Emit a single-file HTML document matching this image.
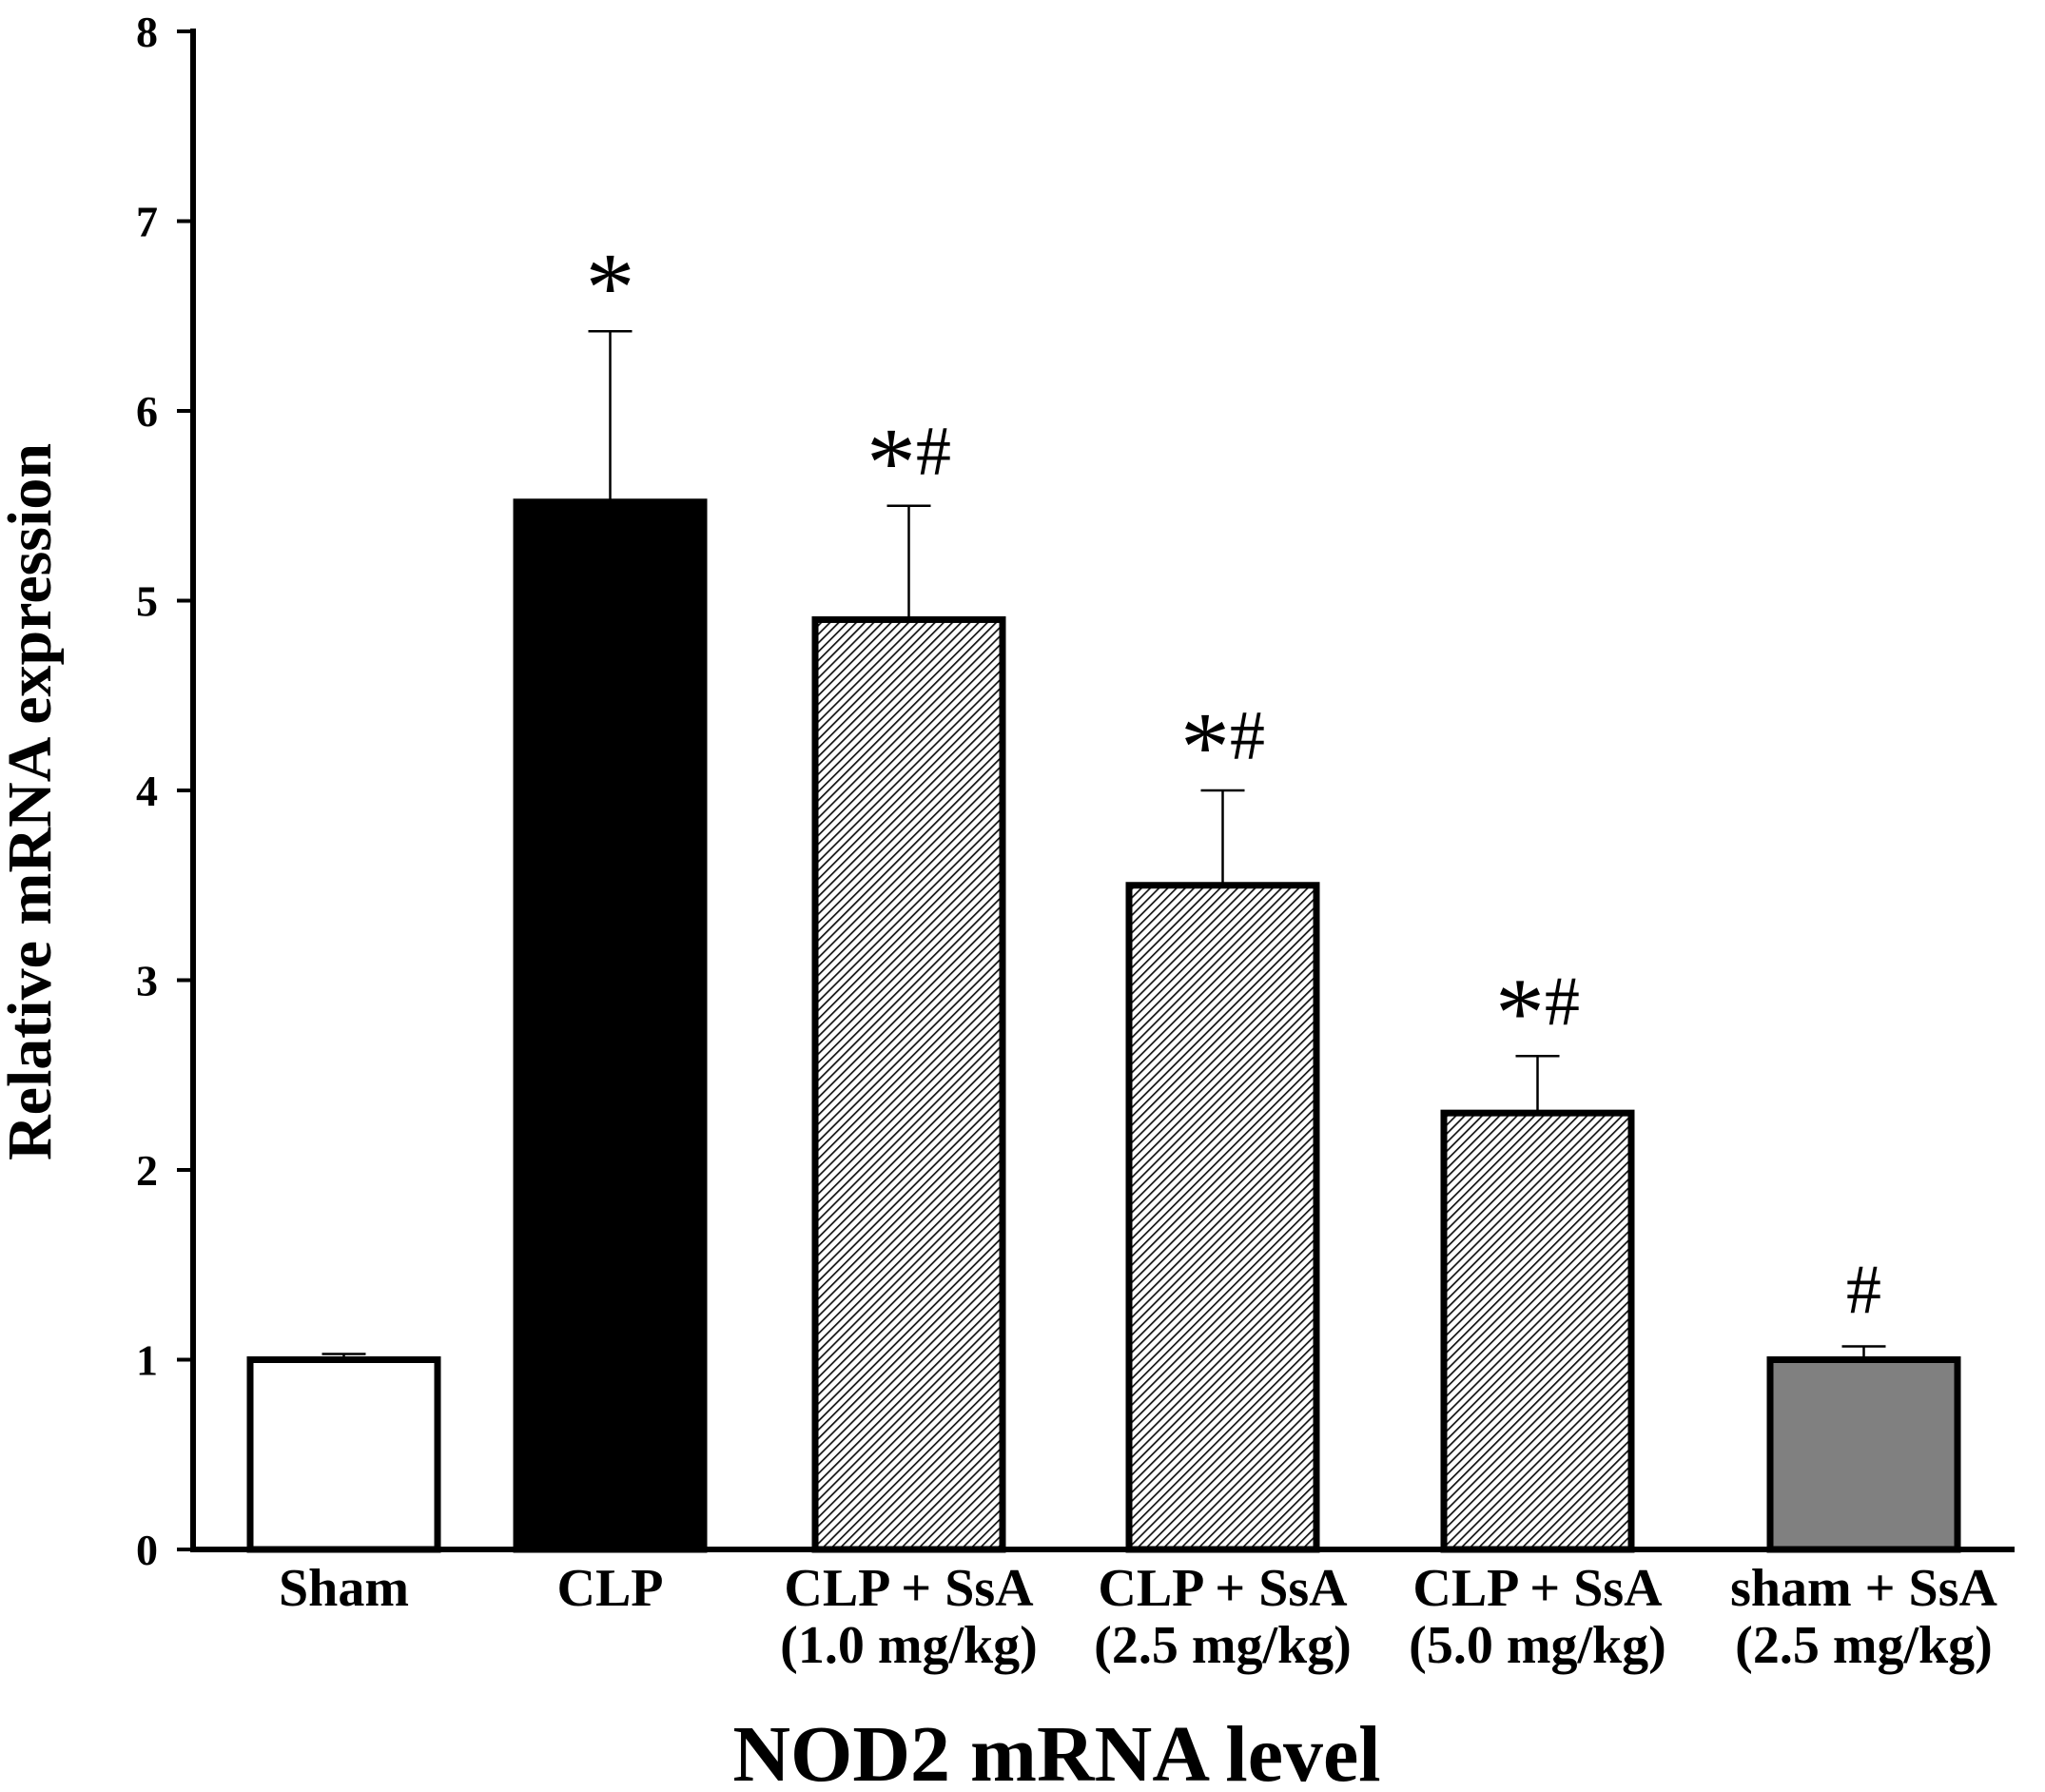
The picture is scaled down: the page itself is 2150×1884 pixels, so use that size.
<!DOCTYPE html>
<html><head><meta charset="utf-8"><style>
body{margin:0;background:#fff}
svg{display:block;font-family:"Liberation Serif",serif;font-weight:bold}
</style></head><body>
<svg id="c" width="2150" height="1884" viewBox="0 0 2150 1884">
<defs>
<pattern id="hatch" patternUnits="userSpaceOnUse" width="6.5" height="6.5" patternTransform="rotate(45)">
<rect width="6.5" height="6.5" fill="#fff"/>
<line x1="0" y1="0" x2="0" y2="6.5" stroke="#111" stroke-width="3.4"/>
</pattern>
</defs>
<g id="bars"></g>
<g id="axes"></g>
<text x="38" y="843" font-size="66" text-anchor="middle" transform="rotate(-90 38 843)" dominant-baseline="middle">Relative mRNA expression</text>
<text x="1111" y="1872" font-size="84" text-anchor="middle">NOD2 mRNA level</text>
</svg>
<script>
const categories1=["Sham","CLP","CLP + SsA","CLP + SsA","CLP + SsA","sham + SsA"];
const categories2=["","","(1.0 mg/kg)","(2.5 mg/kg)","(5.0 mg/kg)","(2.5 mg/kg)"];
const values=[1.0,5.52,4.9,3.5,2.3,1.0];
const errors=[0.03,0.9,0.6,0.5,0.3,0.07];
const marks=["","*","*#","*#","*#","#"];
const fills=["#fff","#000","url(#hatch)","url(#hatch)","url(#hatch)","#808080"];
const yTicks=[0,1,2,3,4,5,6,7,8];
const barLeft=[263,543,857,1187,1518,1861];
const barW=197;
const NS="http://www.w3.org/2000/svg";
const y=v=>1629-v*199.5;
function mk(t,a,p){const e=document.createElementNS(NS,t);for(const k in a)e.setAttribute(k,a[k]);p.appendChild(e);return e;}
const gb=document.getElementById('bars'),ga=document.getElementById('axes');
values.forEach((v,i)=>{
 const x=barLeft[i],cx=x+barW/2;
 const e=mk('line',{x1:cx,x2:cx,y1:y(v),y2:y(v+errors[i]),stroke:'#000','stroke-width':2.5},gb);
 
 
 const c=mk('line',{x1:cx-23,x2:cx+23,y1:y(v+errors[i]),y2:y(v+errors[i]),stroke:'#000','stroke-width':2.5},gb);
 
 
 const r=mk('rect',{x:x,y:y(v),width:barW,height:1629-y(v),fill:fills[i],stroke:'#000','stroke-width':7},gb);
 
 
 if(marks[i]){
  const t=mk('text',{x:cx,y:y(v+errors[i])-35,'text-anchor':'middle','font-weight':'normal'},gb);
  
  
  for(const ch of marks[i]){const s=mk('tspan',{'font-size':ch=='*'?104:74,dy:ch=='*'?24:0},t);if(ch=='#'&&marks[i].length>1)s.setAttribute('dy',-22);s.textContent=ch;}
 }
 const l1=mk('text',{x:cx,y:1688,'font-size':56,'text-anchor':'middle'},ga);
 
 
 l1.textContent=categories1[i];
 if(categories2[i]){const l2=mk('text',{x:cx,y:1748,'font-size':56,'text-anchor':'middle'},ga);
 
 
 l2.textContent=categories2[i];}
});
const ax=mk('line',{x1:203,x2:203,y1:30,y2:1632,stroke:'#000','stroke-width':6},ga);


const xx=mk('line',{x1:200,x2:2118,y1:1629,y2:1629,stroke:'#000','stroke-width':6},ga);


yTicks.forEach(t=>{
 const tk=mk('line',{x1:186,x2:203,y1:y(t),y2:y(t),stroke:'#000','stroke-width':4},ga);
 
 
 const tl=mk('text',{x:166,y:y(t)+16,'font-size':46,'text-anchor':'end'},ga);
 
 
 tl.textContent=t;
});
</script>
</body></html>
